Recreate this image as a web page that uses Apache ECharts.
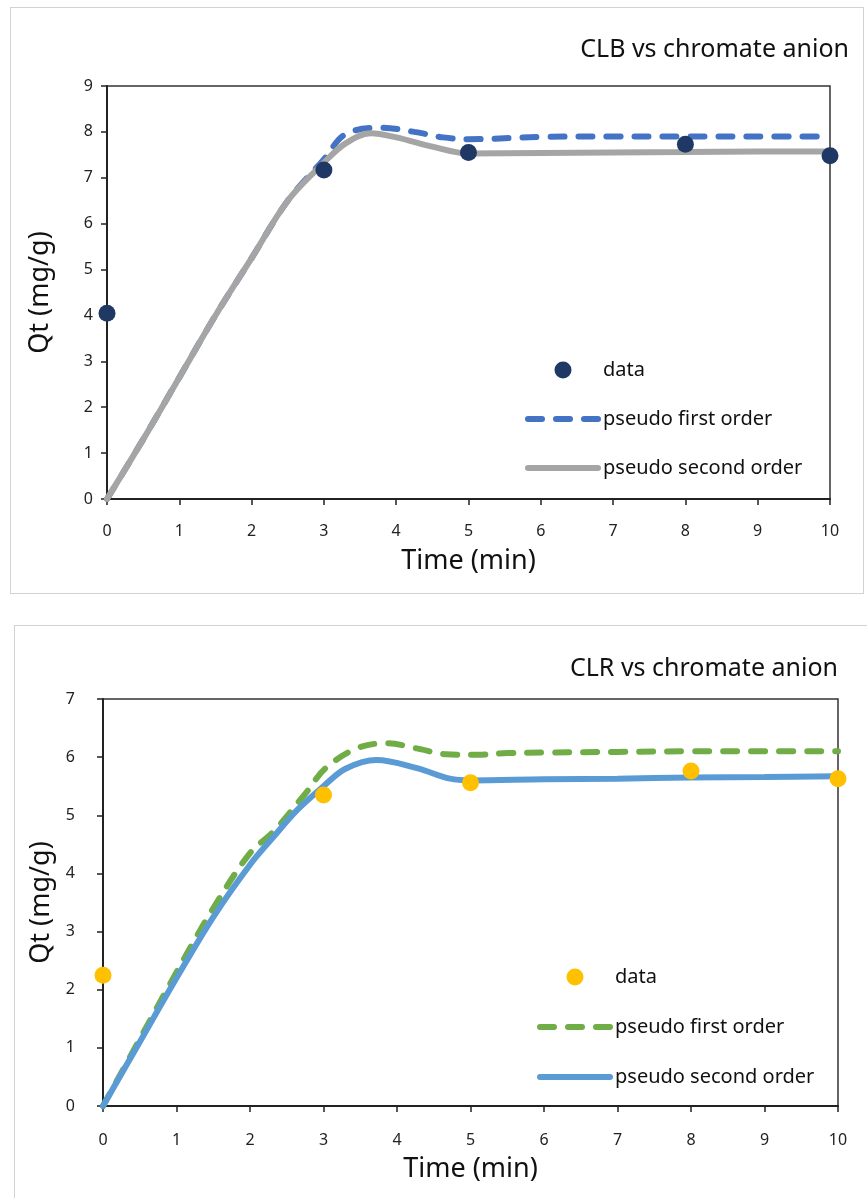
<!DOCTYPE html>
<html>
<head>
<meta charset="utf-8">
<script src="https://cdn.jsdelivr.net/npm/echarts@6/dist/echarts.min.js"></script>
<style>
  body { margin: 0; background: #fff; width: 867px; height: 1198px; overflow: hidden; position: relative; }
  .box { position: absolute; border: 1px solid #d2d2d2; background: #fff; }
</style>
</head>
<body>
<div class="box" id="clb" style="left:10px; top:7px; width:852px; height:585px;"></div>
<div class="box" id="clr" style="left:14px; top:625px; width:870px; height:600px;"></div>
<script>
// time points of the measured data (min)
const dataTime = [0, 3, 5, 8, 10];

// CLB vs chromate anion
const clbData = [4.05, 7.17, 7.55, 7.73, 7.48];
const clbFirstT = [0, 0.5, 1, 1.5, 2, 2.5, 3, 3.3, 3.8, 4.25, 4.65, 5, 6, 7, 8, 9, 10];
const clbFirstQ = [0, 1.3, 2.65, 4.0, 5.25, 6.5, 7.4, 7.95, 8.09, 8.0, 7.88, 7.84, 7.89, 7.9, 7.9, 7.9, 7.9];
const clbSecondT = [0, 0.5, 1, 1.5, 2, 2.5, 3, 3.3, 3.65, 4, 4.5, 5, 6, 7, 8, 9, 10];
const clbSecondQ = [0, 1.3, 2.65, 4.0, 5.25, 6.5, 7.33, 7.75, 7.97, 7.88, 7.68, 7.53, 7.54, 7.55, 7.56, 7.57, 7.57];

// CLR vs chromate anion
const clrData = [2.25, 5.35, 5.56, 5.76, 5.63];
const clrFirstT = [0, 0.5, 1, 1.5, 2, 2.32, 2.77, 3.02, 3.45, 3.86, 4.27, 4.67, 5.1, 5.5, 6, 7, 8, 9, 10];
const clrFirstQ = [0, 1.15, 2.3, 3.4, 4.35, 4.72, 5.4, 5.8, 6.15, 6.24, 6.15, 6.05, 6.04, 6.07, 6.08, 6.09, 6.1, 6.1, 6.1];
const clrSecondT = [0, 0.5, 1, 1.5, 2, 2.3, 2.65, 3, 3.3, 3.72, 4.27, 4.72, 5, 6, 7, 8, 9, 10];
const clrSecondQ = [0, 1.1, 2.2, 3.25, 4.15, 4.6, 5.1, 5.5, 5.8, 5.95, 5.81, 5.63, 5.6, 5.62, 5.63, 5.65, 5.66, 5.67];

const font = '"Noto Sans", "DejaVu Sans", sans-serif';

function pairs(xs, ys) {
  return xs.map((x, i) => [x, ys[i]]);
}

// legend line icons only, no symbol in the middle
const noSymbol = { color: 'rgba(0,0,0,0)', borderWidth: 0 };

function makeOption(cfg) {
  return {
    animation: false,
    textStyle: { fontFamily: font },
    title: {
      text: cfg.title,
      right: cfg.titleRight,
      top: cfg.titleTop,
      padding: 0,
      textStyle: { fontFamily: font, fontSize: 25, fontWeight: 'normal', color: '#111' }
    },
    grid: {
      left: cfg.grid.left, top: cfg.grid.top, width: cfg.grid.width, height: cfg.grid.height,
      show: true, borderColor: '#333', borderWidth: 1.5, backgroundColor: 'transparent'
    },
    legend: {
      orient: 'vertical',
      left: cfg.legendLeft,
      top: cfg.legendTop,
      padding: 0,
      itemWidth: 70,
      itemHeight: 17,
      itemGap: cfg.legendGap,
      textStyle: { fontFamily: font, fontSize: 20, lineHeight: 20, color: '#111' },
      data: [
        { name: 'data' },
        { name: 'pseudo first order', itemStyle: noSymbol, lineStyle: { width: 6, type: [14, 14], cap: 'round' } },
        { name: 'pseudo second order', itemStyle: noSymbol, lineStyle: { width: 6, cap: 'round' } }
      ]
    },
    xAxis: {
      type: 'value', min: 0, max: 10, interval: 1,
      name: 'Time (min)', nameLocation: 'middle', nameGap: cfg.xNameGap,
      nameTextStyle: { fontFamily: font, fontSize: 27, color: '#111' },
      axisLine: { onZero: false, lineStyle: { color: '#222', width: 2 } },
      axisTick: { show: true, length: 6, lineStyle: { color: '#222', width: 1.5 } },
      axisLabel: { margin: cfg.xLabelMargin, fontFamily: font, fontSize: 16, color: '#222' },
      splitLine: { show: false }
    },
    yAxis: {
      type: 'value', min: 0, max: cfg.yMax, interval: 1,
      name: 'Qt (mg/g)', nameLocation: 'middle', nameGap: cfg.yNameGap,
      nameTextStyle: { fontFamily: font, fontSize: 27, color: '#111' },
      axisLine: { show: true, onZero: false, lineStyle: { color: '#222', width: 2 } },
      axisTick: { show: true, length: 6, lineStyle: { color: '#222', width: 1.5 } },
      axisLabel: { margin: cfg.yLabelMargin, fontFamily: font, fontSize: 16, color: '#222' },
      splitLine: { show: false }
    },
    series: [
      {
        name: 'pseudo first order', type: 'line', smooth: 0.35, symbol: 'none', z: 2,
        lineStyle: { color: cfg.firstColor, width: 6, type: [14, 14], cap: 'round' },
        itemStyle: { color: cfg.firstColor },
        data: cfg.first
      },
      {
        name: 'pseudo second order', type: 'line', smooth: 0.35, symbol: 'none', z: 3,
        lineStyle: { color: cfg.secondColor, width: 6, cap: 'round' },
        itemStyle: { color: cfg.secondColor },
        data: cfg.second
      },
      {
        name: 'data', type: 'scatter', symbol: 'circle', symbolSize: 17, z: 5,
        itemStyle: { color: cfg.dataColor, opacity: 1 },
        data: cfg.data
      }
    ]
  };
}

const topChart = echarts.init(document.getElementById('clb'), null, { renderer: 'canvas' });
topChart.setOption(makeOption({
  title: 'CLB vs chromate anion', titleRight: 14, titleTop: 29,
  grid: { left: 96, top: 78, width: 723, height: 413 },
  legendLeft: 514, legendTop: 352, legendGap: 29,
  xNameGap: 49, xLabelMargin: 24, yNameGap: 53, yLabelMargin: 14, yMax: 9,
  firstColor: '#4472c4', secondColor: '#a5a5a5', dataColor: '#1f3864',
  first: pairs(clbFirstT, clbFirstQ),
  second: pairs(clbSecondT, clbSecondQ),
  data: pairs(dataTime, clbData)
}));

const botChart = echarts.init(document.getElementById('clr'), null, { renderer: 'canvas' });
botChart.setOption(makeOption({
  title: 'CLR vs chromate anion', titleRight: 47, titleTop: 30,
  grid: { left: 88, top: 73, width: 735, height: 407 },
  legendLeft: 522, legendTop: 341, legendGap: 30,
  xNameGap: 50, xLabelMargin: 26, yNameGap: 46, yLabelMargin: 28, yMax: 7,
  firstColor: '#70ad47', secondColor: '#5b9bd5', dataColor: '#ffc000',
  first: pairs(clrFirstT, clrFirstQ),
  second: pairs(clrSecondT, clrSecondQ),
  data: pairs(dataTime, clrData)
}));
</script>
</body>
</html>
